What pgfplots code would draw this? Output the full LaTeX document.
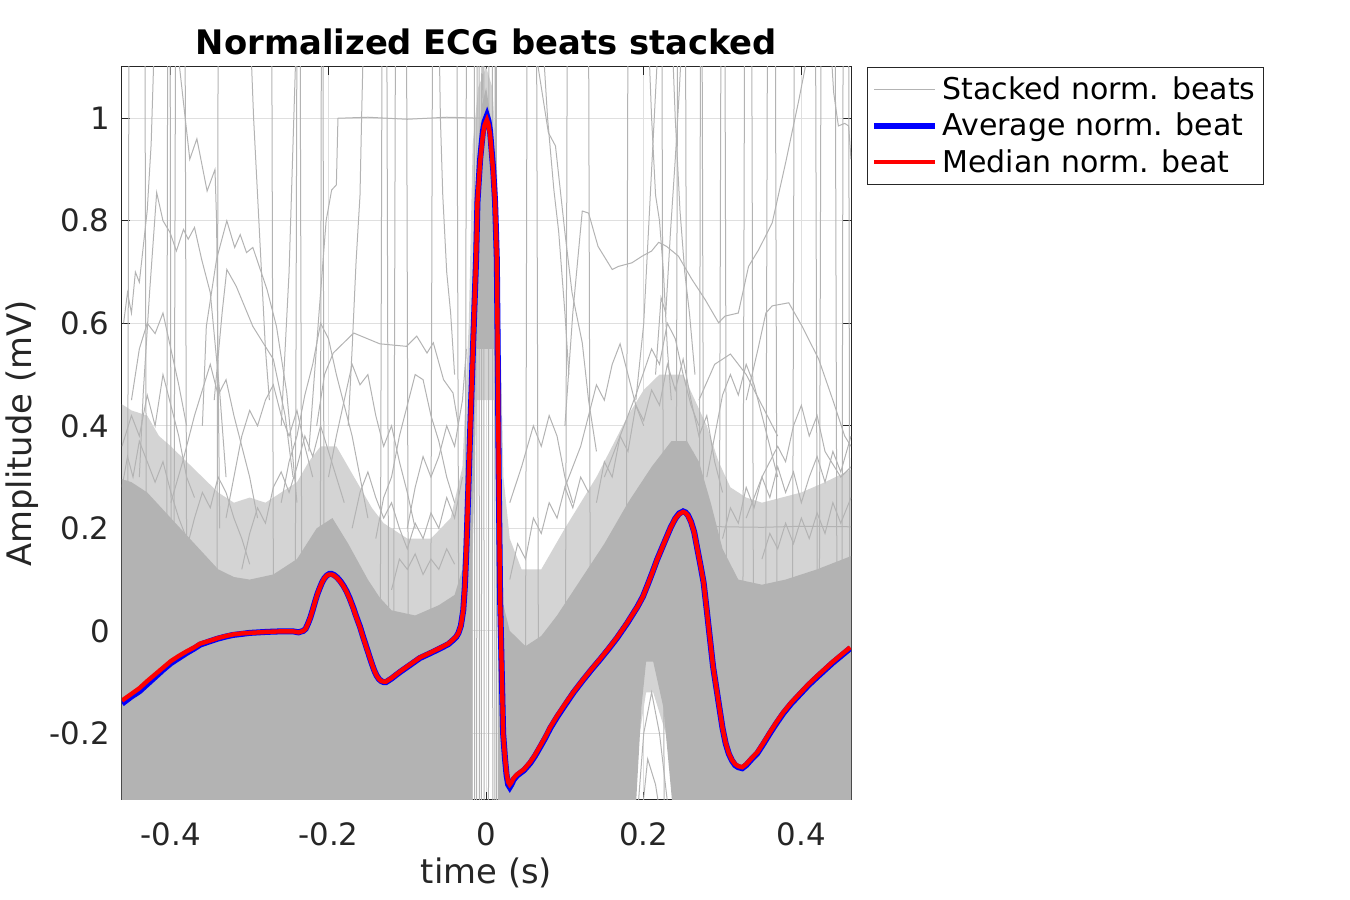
\documentclass[border=0pt]{standalone}
\usepackage{pgfplots}
\pgfplotsset{compat=1.18}
\usepackage{fontspec}
\setmainfont{DejaVu Sans}
\definecolor{beat}{HTML}{B3B3B3}
\definecolor{halo}{HTML}{D4D4D4}
\definecolor{axgray}{HTML}{262626}
\definecolor{gridc}{HTML}{DFDFDF}
\begin{document}
\begin{tikzpicture}
\useasboundingbox (0,0) rectangle (675pt,450pt);
\begin{axis}[
  at={(61pt,50pt)}, anchor=south west, scale only axis,
  width=364.5pt, height=366.5pt,
  xmin=-0.462, xmax=0.463, ymin=-0.33, ymax=1.1,
  xtick={-0.4,-0.2,0,0.2,0.4},
  ytick={-0.2,0,0.2,0.4,0.6,0.8,1},
  tick align=inside, xtick pos=both, ytick pos=both,
  major tick length=4pt,
  tick style={axgray, line width=0.5pt},
  axis line style={axgray, line width=0.5pt},
  grid=major, grid style={gridc, line width=0.5pt},
  /pgf/number format/assume math mode=true,
  ticklabel style={font=\fontsize{15.4}{18}\selectfont, text=axgray},
  xticklabel style={anchor=north, inner sep=0pt, yshift=-11pt},
  yticklabel style={anchor=east, inner sep=0pt, xshift=-6pt},
  xlabel={time (s)}, ylabel={Amplitude (mV)},
  label style={font=\fontsize{16.9}{20}\selectfont, text=axgray},
  xlabel style={at={(axis description cs:0.5,-0.0996)}, anchor=center},
  ylabel style={at={(axis description cs:-0.137,0.5)}, anchor=center},
  title={Normalized ECG beats stacked},
  title style={at={(axis description cs:0.5,1.0)}, anchor=base, font=\fontsize{16.9}{20}\selectfont\bfseries},
  legend style={at={(axis description cs:1.0219,1)}, anchor=north west, draw=axgray, line width=0.5pt,
    font=\fontsize{15}{18}\selectfont, inner xsep=2pt, inner ysep=2.5pt, row sep=1.3pt},
  legend cell align=left,
  legend image code/.code={\draw[#1] (0pt,0pt) -- (30.5pt,0pt);},
]
% halo (sparser region of stacked beats)
\addplot[fill=halo, draw=none, forget plot] coordinates {
(-0.47,0.45)(-0.45,0.43)(-0.43,0.42)(-0.415,0.38)(-0.40,0.36)(-0.38,0.33)(-0.36,0.30)(-0.34,0.27)(-0.32,0.25)(-0.30,0.26)(-0.28,0.25)(-0.26,0.27)(-0.24,0.29)(-0.225,0.33)(-0.21,0.36)(-0.19,0.36)(-0.175,0.32)(-0.16,0.28)(-0.145,0.24)(-0.13,0.21)(-0.10,0.18)(-0.07,0.18)(-0.045,0.22)(-0.03,0.32)(-0.022,0.6)(-0.017,0.95)(-0.01,1.06)(0.0,1.1)(0.008,1.06)(0.014,0.9)(0.018,0.6)(0.022,0.3)(0.03,0.18)(0.045,0.12)(0.07,0.12)(0.10,0.20)(0.12,0.25)(0.14,0.30)(0.16,0.36)(0.18,0.42)(0.20,0.47)(0.22,0.50)(0.25,0.50)(0.265,0.45)(0.28,0.40)(0.295,0.33)(0.31,0.28)(0.33,0.26)(0.35,0.25)(0.40,0.27)(0.43,0.29)(0.47,0.32)
(0.47,-0.4)(0.245,-0.4)(0.228,-0.2)(0.212,-0.12)(0.203,-0.12)(0.195,-0.2)(0.185,-0.4)(0.015,-0.4)(0.015,0.15)(0.010,0.45)(-0.012,0.45)(-0.017,0.15)(-0.017,-0.4)(-0.47,-0.4)};
% dense band of stacked beats
\addplot[fill=beat, draw=none, forget plot] coordinates {
(-0.47,0.30)(-0.45,0.29)(-0.43,0.27)(-0.415,0.245)(-0.40,0.22)(-0.385,0.195)(-0.37,0.17)(-0.355,0.145)(-0.34,0.12)(-0.32,0.105)(-0.30,0.10)(-0.27,0.11)(-0.24,0.14)(-0.215,0.20)(-0.195,0.22)(-0.175,0.17)(-0.15,0.10)(-0.135,0.065)(-0.12,0.04)(-0.09,0.03)(-0.06,0.05)(-0.04,0.07)(-0.03,0.12)(-0.025,0.3)(-0.021,0.5)(-0.016,0.75)(-0.012,0.9)(-0.006,1.02)(0.0,1.06)(0.006,1.0)(0.011,0.85)(0.015,0.6)(0.018,0.3)(0.022,0.05)(0.03,0.0)(0.05,-0.03)(0.07,-0.01)(0.09,0.03)(0.12,0.10)(0.15,0.17)(0.18,0.25)(0.21,0.32)(0.235,0.37)(0.255,0.37)(0.27,0.33)(0.285,0.25)(0.30,0.16)(0.32,0.10)(0.35,0.09)(0.38,0.10)(0.42,0.12)(0.47,0.15)
(0.47,-0.4)(0.24,-0.4)(0.225,-0.15)(0.212,-0.06)(0.203,-0.06)(0.197,-0.15)(0.188,-0.4)(0.015,-0.4)(0.015,0.2)(0.010,0.55)(-0.012,0.55)(-0.017,0.2)(-0.017,-0.4)(-0.47,-0.4)};
% individual stacked beats (outliers)
\addplot[beat, line width=0.5pt] coordinates {
(-0.456,-0.4)(-0.453,1.2)(-0.433,1.2)(-0.430,-0.4)(-0.406,-0.4)(-0.404,1.2)(-0.401,1.2)(-0.399,-0.4)(-0.397,-0.4)(-0.394,1.2)(-0.382,1.2)(-0.379,-0.4)(-0.342,-0.4)(-0.340,1.2)(-0.272,1.2)(-0.269,-0.4)(-0.243,-0.4)(-0.240,1.2)(-0.236,1.2)(-0.233,-0.4)(-0.211,-0.4)(-0.209,1.2)(-0.207,1.2)(-0.205,-0.4)(-0.135,-0.4)(-0.132,1.2)(-0.126,1.2)(-0.123,-0.4)(-0.118,-0.4)(-0.115,1.2)(-0.101,1.2)(-0.098,-0.4)(-0.071,-0.4)(-0.068,1.2)(-0.037,1.2)(-0.034,-0.4)(-0.027,-0.4)(-0.025,1.2)(-0.015,1.2)(-0.0145,-0.4)(-0.012,-0.4)(-0.0115,1.2)(-0.009,1.2)(-0.0085,-0.4)(-0.006,-0.4)(-0.0055,1.2)(-0.003,1.2)(-0.0025,-0.4)(0.003,-0.4)(0.0035,1.2)(0.008,1.2)(0.0085,-0.4)(0.011,-0.4)(0.0115,1.2)(0.013,1.2)(0.0135,-0.4)(0.0495,-0.4)(0.052,1.2)(0.064,1.2)(0.067,-0.4)(0.100,-0.4)(0.103,1.2)(0.130,1.2)(0.133,-0.4)(0.177,-0.4)(0.180,1.2)(0.223,1.2)(0.226,-0.4)(0.240,-0.4)(0.243,1.2)(0.253,1.2)(0.256,-0.4)(0.270,-0.4)(0.272,1.2)(0.274,1.2)(0.277,-0.4)(0.295,-0.4)(0.298,1.2)(0.303,1.2)(0.306,-0.4)(0.325,-0.4)(0.328,1.2)(0.337,1.2)(0.340,-0.4)(0.354,-0.4)(0.357,1.2)(0.367,1.2)(0.370,-0.4)(0.388,-0.4)(0.391,1.2)(0.418,1.2)(0.421,-0.4)(0.422,-0.4)(0.425,1.2)(0.443,1.2)(0.446,-0.4)(0.451,-0.4)(0.453,1.2)(0.460,1.2)(0.462,-0.4)};
\addlegendentry{Stacked norm. beats}
\addplot[beat, line width=0.5pt, forget plot] coordinates {(-0.395,1.2)(-0.389,1.10)(-0.376,0.92)(-0.367,0.96)(-0.354,0.858)(-0.344,0.90)(-0.342,0.80)(-0.340,0.5)(-0.338,0.2)};
\addplot[beat, line width=0.5pt, forget plot] coordinates {(-0.440,0.30)(-0.435,0.465)(-0.427,0.66)(-0.418,0.855)(-0.410,0.80)(-0.401,0.777)(-0.393,0.741)(-0.384,0.783)(-0.378,0.764)(-0.370,0.787)(-0.361,0.725)(-0.350,0.66)(-0.338,0.465)(-0.330,0.30)};
\addplot[beat, line width=0.5pt, forget plot] coordinates {(-0.36,0.40)(-0.355,0.594)(-0.342,0.725)(-0.329,0.80)(-0.319,0.748)(-0.312,0.773)(-0.304,0.738)(-0.296,0.748)(-0.278,0.666)(-0.266,0.594)(-0.253,0.465)(-0.245,0.334)(-0.24,0.25)};
\addplot[beat, line width=0.5pt, forget plot] coordinates {(-0.345,0.45)(-0.335,0.62)(-0.329,0.705)(-0.317,0.672)(-0.296,0.594)(-0.27,0.53)(-0.255,0.42)(-0.245,0.30)};
\addplot[beat, line width=0.5pt, forget plot] coordinates {(-0.225,0.35)(-0.212,0.62)(-0.203,0.80)(-0.196,0.86)(-0.190,0.87)(-0.188,1.0)(-0.15,1.002)(-0.10,0.998)(-0.05,1.002)(-0.006,1.0)(-0.002,1.2)};
\addplot[beat, line width=0.5pt, forget plot] coordinates {(-0.215,0.40)(-0.205,0.50)(-0.194,0.542)(-0.168,0.581)(-0.135,0.56)(-0.101,0.555)(-0.088,0.575)(-0.075,0.542)(-0.067,0.562)(-0.054,0.49)(-0.042,0.464)(-0.035,0.40)};
\addplot[beat, line width=0.5pt, forget plot] coordinates {(-0.45,0.45)(-0.44,0.55)(-0.43,0.60)(-0.42,0.58)(-0.41,0.62)(-0.40,0.55)(-0.39,0.48)(-0.38,0.40)};
\addplot[beat, line width=0.5pt, forget plot] coordinates {(-0.462,0.36)(-0.45,0.42)(-0.44,0.38)(-0.43,0.46)(-0.42,0.40)(-0.41,0.50)(-0.40,0.44)(-0.39,0.38)(-0.38,0.30)(-0.37,0.26)};
\addplot[beat, line width=0.5pt, forget plot] coordinates {(-0.40,0.25)(-0.385,0.33)(-0.37,0.42)(-0.36,0.47)(-0.35,0.52)(-0.34,0.46)(-0.33,0.49)(-0.32,0.42)(-0.31,0.36)(-0.30,0.30)(-0.29,0.22)};
\addplot[beat, line width=0.5pt, forget plot] coordinates {(-0.33,0.22)(-0.32,0.30)(-0.31,0.38)(-0.30,0.43)(-0.29,0.40)(-0.28,0.45)(-0.27,0.48)(-0.26,0.42)(-0.25,0.38)(-0.24,0.43)(-0.23,0.36)(-0.22,0.30)};
\addplot[beat, line width=0.5pt, forget plot] coordinates {(-0.26,0.25)(-0.25,0.33)(-0.24,0.38)(-0.23,0.46)(-0.22,0.52)(-0.21,0.60)(-0.20,0.57)(-0.19,0.50)(-0.18,0.44)(-0.17,0.38)(-0.16,0.30)(-0.15,0.22)};
\addplot[beat, line width=0.5pt, forget plot] coordinates {(-0.20,0.30)(-0.19,0.38)(-0.18,0.45)(-0.17,0.52)(-0.16,0.48)(-0.15,0.50)(-0.14,0.42)(-0.13,0.36)(-0.12,0.40)(-0.11,0.33)(-0.10,0.27)(-0.09,0.20)};
\addplot[beat, line width=0.5pt, forget plot] coordinates {(-0.14,0.18)(-0.13,0.26)(-0.12,0.30)(-0.11,0.38)(-0.10,0.44)(-0.09,0.50)(-0.08,0.49)(-0.07,0.42)(-0.06,0.37)(-0.05,0.30)(-0.04,0.25)};
\addplot[beat, line width=0.5pt, forget plot] coordinates {(-0.10,0.20)(-0.09,0.28)(-0.08,0.34)(-0.07,0.30)(-0.06,0.34)(-0.05,0.40)(-0.04,0.36)(-0.03,0.45)(-0.025,0.55)};
\addplot[beat, line width=0.5pt, forget plot] coordinates {(-0.462,0.28)(-0.455,0.34)(-0.448,0.30)(-0.44,0.37)(-0.43,0.33)(-0.42,0.29)(-0.41,0.33)(-0.40,0.27)(-0.39,0.22)(-0.38,0.18)};
\addplot[beat, line width=0.5pt, forget plot] coordinates {(-0.38,0.16)(-0.37,0.22)(-0.36,0.27)(-0.35,0.24)(-0.34,0.30)(-0.33,0.27)(-0.32,0.22)(-0.31,0.18)(-0.30,0.13)};
\addplot[beat, line width=0.5pt, forget plot] coordinates {(-0.31,0.12)(-0.30,0.19)(-0.29,0.24)(-0.28,0.21)(-0.27,0.28)(-0.26,0.31)(-0.25,0.27)(-0.24,0.32)(-0.23,0.38)(-0.22,0.34)(-0.21,0.40)(-0.20,0.35)(-0.19,0.30)(-0.18,0.25)};
\addplot[beat, line width=0.5pt, forget plot] coordinates {(-0.17,0.20)(-0.16,0.27)(-0.15,0.31)(-0.14,0.26)(-0.13,0.22)(-0.12,0.25)(-0.11,0.20)(-0.10,0.16)(-0.09,0.21)(-0.08,0.18)(-0.07,0.23)(-0.06,0.20)(-0.05,0.26)(-0.04,0.22)(-0.03,0.30)};
\addplot[beat, line width=0.5pt, forget plot] coordinates {(-0.12,0.08)(-0.11,0.14)(-0.10,0.12)(-0.09,0.15)(-0.08,0.11)(-0.07,0.14)(-0.06,0.12)(-0.05,0.16)(-0.04,0.13)};
\addplot[beat, line width=0.5pt, forget plot] coordinates {(-0.30,1.2)(-0.295,1.0)(-0.29,0.85)(-0.285,0.70)(-0.28,0.55)(-0.275,0.45)};
\addplot[beat, line width=0.5pt, forget plot] coordinates {(-0.26,0.40)(-0.255,0.55)(-0.25,0.70)(-0.247,0.85)(-0.244,1.0)(-0.24,1.2)};
\addplot[beat, line width=0.5pt, forget plot] coordinates {(-0.175,0.4)(-0.17,0.55)(-0.165,0.72)(-0.16,0.85)(-0.158,1.0)(-0.155,1.2)};
\addplot[beat, line width=0.5pt, forget plot] coordinates {(-0.06,1.2)(-0.058,1.0)(-0.055,0.85)(-0.05,0.70)(-0.045,0.62)(-0.04,0.5)};
\addplot[beat, line width=0.5pt, forget plot] coordinates {(-0.46,0.60)(-0.455,0.66)(-0.45,0.62)(-0.445,0.70)(-0.44,0.68)(-0.435,0.75)(-0.43,0.82)(-0.425,0.95)(-0.42,1.2)};
\addplot[beat, line width=0.5pt, forget plot] coordinates {(0.055,1.2)(0.066,1.10)(0.079,0.972)(0.088,0.946)(0.100,0.777)(0.109,0.66)(0.122,0.562)(0.13,0.45)(0.14,0.35)};
\addplot[beat, line width=0.5pt, forget plot] coordinates {(0.07,1.2)(0.078,1.0)(0.086,0.86)(0.092,0.78)(0.10,0.62)(0.105,0.50)};
\addplot[beat, line width=0.5pt, forget plot] coordinates {(0.10,0.40)(0.11,0.62)(0.122,0.819)(0.13,0.815)(0.142,0.75)(0.16,0.705)(0.168,0.711)(0.185,0.718)(0.198,0.731)(0.21,0.741)(0.219,0.758)(0.229,0.75)(0.244,0.731)(0.261,0.686)(0.278,0.646)(0.295,0.601)(0.303,0.614)(0.32,0.62)(0.333,0.711)(0.346,0.744)(0.363,0.796)(0.38,0.913)(0.397,1.037)(0.405,1.10)(0.41,1.2)};
\addplot[beat, line width=0.5pt, forget plot] coordinates {(0.19,0.45)(0.20,0.60)(0.205,0.75)(0.21,0.90)(0.215,1.05)(0.22,1.2)};
\addplot[beat, line width=0.5pt, forget plot] coordinates {(0.205,1.2)(0.21,1.0)(0.215,0.85)(0.22,0.80)(0.225,0.70)(0.23,0.55)(0.235,0.45)};
\addplot[beat, line width=0.5pt, forget plot] coordinates {(0.215,0.5)(0.222,0.65)(0.228,0.62)(0.234,0.78)(0.24,0.92)(0.245,1.05)(0.25,1.2)};
\addplot[beat, line width=0.5pt, forget plot] coordinates {(0.235,1.2)(0.24,1.0)(0.246,0.82)(0.252,0.70)(0.258,0.62)(0.265,0.50)};
\addplot[beat, line width=0.5pt, forget plot] coordinates {(0.33,0.45)(0.345,0.55)(0.355,0.62)(0.363,0.634)(0.384,0.64)(0.401,0.594)(0.422,0.53)(0.44,0.45)(0.455,0.38)(0.463,0.36)};
\addplot[beat, line width=0.5pt, forget plot] coordinates {(0.435,1.2)(0.441,1.05)(0.447,0.985)(0.455,0.99)(0.460,0.985)(0.463,0.92)};
\addplot[beat, line width=0.5pt, forget plot] coordinates {(0.03,0.25)(0.045,0.32)(0.06,0.40)(0.07,0.36)(0.08,0.42)(0.09,0.38)(0.10,0.30)(0.11,0.25)};
\addplot[beat, line width=0.5pt, forget plot] coordinates {(0.10,0.28)(0.12,0.36)(0.13,0.42)(0.14,0.48)(0.15,0.45)(0.16,0.52)(0.17,0.56)(0.18,0.50)(0.19,0.44)(0.20,0.40)};
\addplot[beat, line width=0.5pt, forget plot] coordinates {(0.15,0.30)(0.17,0.38)(0.19,0.46)(0.21,0.55)(0.22,0.52)(0.23,0.60)(0.24,0.57)(0.25,0.50)(0.26,0.44)(0.27,0.40)};
\addplot[beat, line width=0.5pt, forget plot] coordinates {(0.27,0.45)(0.29,0.52)(0.31,0.54)(0.33,0.50)(0.35,0.44)(0.37,0.38)};
\addplot[beat, line width=0.5pt, forget plot] coordinates {(0.28,0.30)(0.29,0.38)(0.30,0.46)(0.31,0.50)(0.32,0.46)(0.33,0.52)(0.34,0.48)(0.35,0.42)(0.36,0.36)(0.37,0.30)};
\addplot[beat, line width=0.5pt, forget plot] coordinates {(0.33,0.22)(0.35,0.30)(0.37,0.36)(0.38,0.33)(0.39,0.40)(0.40,0.44)(0.41,0.38)(0.42,0.42)(0.43,0.35)(0.45,0.30)(0.463,0.32)};
\addplot[beat, line width=0.5pt, forget plot] coordinates {(0.03,0.10)(0.04,0.17)(0.05,0.14)(0.06,0.22)(0.07,0.19)(0.08,0.25)(0.09,0.22)(0.10,0.28)(0.11,0.24)(0.12,0.30)(0.13,0.27)};
\addplot[beat, line width=0.5pt, forget plot] coordinates {(0.14,0.25)(0.15,0.33)(0.16,0.30)(0.17,0.38)(0.18,0.35)(0.19,0.44)(0.20,0.41)(0.21,0.47)(0.22,0.44)(0.23,0.52)(0.24,0.47)(0.25,0.53)(0.26,0.45)(0.27,0.38)(0.28,0.42)(0.29,0.33)(0.30,0.27)};
\addplot[beat, line width=0.5pt, forget plot] coordinates {(0.30,0.18)(0.31,0.24)(0.32,0.21)(0.33,0.28)(0.34,0.24)(0.35,0.30)(0.36,0.26)(0.37,0.32)(0.38,0.27)(0.39,0.31)(0.40,0.25)(0.41,0.30)(0.42,0.34)(0.43,0.29)(0.44,0.35)(0.45,0.31)(0.463,0.38)};
\addplot[beat, line width=0.5pt, forget plot] coordinates {(0.35,0.14)(0.36,0.19)(0.37,0.16)(0.38,0.21)(0.39,0.17)(0.40,0.22)(0.41,0.18)(0.42,0.23)(0.43,0.19)(0.44,0.25)(0.45,0.21)(0.463,0.26)};
\addplot[beat, line width=0.5pt, forget plot] coordinates {(0.262,0.35)(0.268,0.26)(0.272,0.205)(0.30,0.203)(0.35,0.202)(0.40,0.204)(0.463,0.203)};
\addplot[beat, line width=0.5pt, forget plot] coordinates {(0.19,-0.4)(0.20,-0.2)(0.21,-0.12)(0.22,-0.2)(0.235,-0.4)};
\addplot[beat, line width=0.5pt, forget plot] coordinates {(0.195,-0.4)(0.205,-0.25)(0.215,-0.3)(0.225,-0.4)};
% average beat
\addplot[blue, line width=3pt] coordinates {
(-0.462,-0.142)(-0.45,-0.128)(-0.44,-0.118)(-0.43,-0.104)(-0.42,-0.090)(-0.41,-0.076)(-0.40,-0.063)(-0.39,-0.053)(-0.38,-0.043)(-0.37,-0.034)(-0.363,-0.027)(-0.35,-0.020)(-0.34,-0.015)(-0.33,-0.011)(-0.321,-0.008)(-0.31,-0.006)(-0.30,-0.004)(-0.278,-0.002)(-0.26,-0.001)(-0.245,-0.001)(-0.238,-0.003)(-0.232,0.000)(-0.229,0.004)(-0.226,0.014)(-0.223,0.026)(-0.220,0.041)(-0.217,0.057)(-0.214,0.072)(-0.211,0.084)(-0.208,0.095)(-0.205,0.103)(-0.202,0.108)(-0.199,0.111)(-0.196,0.111)(-0.193,0.109)(-0.189,0.104)(-0.185,0.097)(-0.181,0.088)(-0.177,0.077)(-0.173,0.063)(-0.169,0.047)(-0.165,0.029)(-0.160,0.008)(-0.156,-0.012)(-0.152,-0.031)(-0.148,-0.050)(-0.145,-0.064)(-0.142,-0.077)(-0.139,-0.087)(-0.136,-0.094)(-0.133,-0.098)(-0.130,-0.100)(-0.127,-0.100)(-0.124,-0.097)(-0.120,-0.093)(-0.115,-0.087)(-0.109,-0.080)(-0.096,-0.066)(-0.084,-0.053)(-0.070,-0.043)(-0.058,-0.034)(-0.048,-0.026)(-0.042,-0.018)(-0.038,-0.012)(-0.035,-0.004)(-0.032,0.010)(-0.029,0.040)(-0.027,0.086)(-0.025,0.160)(-0.023,0.256)(-0.020,0.400)(-0.016,0.580)(-0.0127,0.725)(-0.011,0.836)(-0.0076,0.920)(-0.004,0.975)(-0.002,0.993)(0.001,1.005)(0.003,0.995)(0.005,0.975)(0.009,0.900)(0.0114,0.836)(0.0136,0.725)(0.0150,0.500)(0.0160,0.300)(0.0178,0.060)(0.0200,-0.090)(0.0216,-0.200)(0.024,-0.250)(0.026,-0.282)(0.028,-0.300)(0.030,-0.305)(0.032,-0.300)(0.035,-0.290)(0.0394,-0.282)(0.048,-0.272)(0.0559,-0.258)(0.062,-0.244)(0.068,-0.228)(0.075,-0.209)(0.0813,-0.190)(0.090,-0.168)(0.100,-0.145)(0.111,-0.120)(0.123,-0.096)(0.134,-0.075)(0.145,-0.055)(0.156,-0.034)(0.166,-0.014)(0.179,0.015)(0.192,0.047)(0.199,0.067)(0.205,0.090)(0.211,0.114)(0.217,0.139)(0.226,0.172)(0.234,0.201)(0.240,0.219)(0.245,0.229)(0.250,0.233)(0.253,0.231)(0.256,0.226)(0.260,0.213)(0.264,0.193)(0.268,0.160)(0.272,0.128)(0.276,0.094)(0.280,0.040)(0.284,-0.015)(0.288,-0.070)(0.292,-0.110)(0.296,-0.150)(0.300,-0.190)(0.304,-0.220)(0.308,-0.240)(0.312,-0.253)(0.316,-0.262)(0.320,-0.266)(0.325,-0.268)(0.330,-0.262)(0.337,-0.250)(0.344,-0.239)(0.352,-0.220)(0.360,-0.200)(0.368,-0.181)(0.377,-0.161)(0.387,-0.142)(0.398,-0.124)(0.409,-0.106)(0.420,-0.090)(0.430,-0.076)(0.440,-0.062)(0.451,-0.048)(0.462,-0.034)};
\addlegendentry{Average norm. beat}
% median beat
\addplot[red, line width=2.2pt] coordinates {
(-0.462,-0.136)(-0.45,-0.123)(-0.44,-0.112)(-0.43,-0.098)(-0.42,-0.085)(-0.41,-0.072)(-0.40,-0.059)(-0.39,-0.049)(-0.38,-0.040)(-0.37,-0.032)(-0.363,-0.025)(-0.35,-0.019)(-0.34,-0.014)(-0.33,-0.010)(-0.321,-0.007)(-0.31,-0.005)(-0.30,-0.004)(-0.278,-0.002)(-0.26,-0.001)(-0.245,-0.001)(-0.238,-0.003)(-0.232,0.000)(-0.229,0.004)(-0.226,0.014)(-0.223,0.026)(-0.220,0.041)(-0.217,0.057)(-0.214,0.072)(-0.211,0.084)(-0.208,0.095)(-0.205,0.103)(-0.202,0.108)(-0.199,0.110)(-0.196,0.110)(-0.193,0.108)(-0.189,0.103)(-0.185,0.096)(-0.181,0.087)(-0.177,0.076)(-0.173,0.062)(-0.169,0.046)(-0.165,0.028)(-0.160,0.007)(-0.156,-0.013)(-0.152,-0.032)(-0.148,-0.050)(-0.145,-0.064)(-0.142,-0.077)(-0.139,-0.087)(-0.136,-0.094)(-0.133,-0.098)(-0.130,-0.099)(-0.127,-0.099)(-0.124,-0.096)(-0.120,-0.092)(-0.115,-0.086)(-0.109,-0.079)(-0.096,-0.065)(-0.084,-0.052)(-0.070,-0.042)(-0.058,-0.033)(-0.048,-0.025)(-0.042,-0.017)(-0.038,-0.011)(-0.035,-0.004)(-0.032,0.010)(-0.029,0.040)(-0.027,0.086)(-0.025,0.160)(-0.023,0.256)(-0.020,0.400)(-0.016,0.580)(-0.0127,0.725)(-0.011,0.836)(-0.0076,0.915)(-0.004,0.968)(-0.002,0.986)(0.001,0.997)(0.003,0.988)(0.005,0.968)(0.009,0.895)(0.0114,0.836)(0.0136,0.725)(0.0150,0.500)(0.0160,0.300)(0.0178,0.060)(0.0200,-0.090)(0.0216,-0.200)(0.024,-0.248)(0.026,-0.278)(0.028,-0.295)(0.030,-0.300)(0.032,-0.296)(0.035,-0.287)(0.0394,-0.280)(0.048,-0.270)(0.0559,-0.256)(0.062,-0.242)(0.068,-0.226)(0.075,-0.207)(0.0813,-0.188)(0.090,-0.166)(0.100,-0.143)(0.111,-0.119)(0.123,-0.095)(0.134,-0.074)(0.145,-0.054)(0.156,-0.033)(0.166,-0.013)(0.179,0.016)(0.192,0.047)(0.199,0.067)(0.205,0.090)(0.211,0.114)(0.217,0.139)(0.226,0.172)(0.234,0.201)(0.240,0.219)(0.245,0.228)(0.250,0.232)(0.253,0.230)(0.256,0.225)(0.260,0.212)(0.264,0.192)(0.268,0.160)(0.272,0.128)(0.276,0.094)(0.280,0.040)(0.284,-0.015)(0.288,-0.070)(0.292,-0.110)(0.296,-0.150)(0.300,-0.190)(0.304,-0.219)(0.308,-0.239)(0.312,-0.252)(0.316,-0.260)(0.320,-0.264)(0.325,-0.266)(0.330,-0.260)(0.337,-0.248)(0.344,-0.237)(0.352,-0.218)(0.360,-0.198)(0.368,-0.179)(0.377,-0.159)(0.387,-0.140)(0.398,-0.122)(0.409,-0.104)(0.420,-0.088)(0.430,-0.074)(0.440,-0.060)(0.451,-0.046)(0.462,-0.032)};
\addlegendentry{Median norm. beat}
\end{axis}
\end{tikzpicture}
\end{document}
